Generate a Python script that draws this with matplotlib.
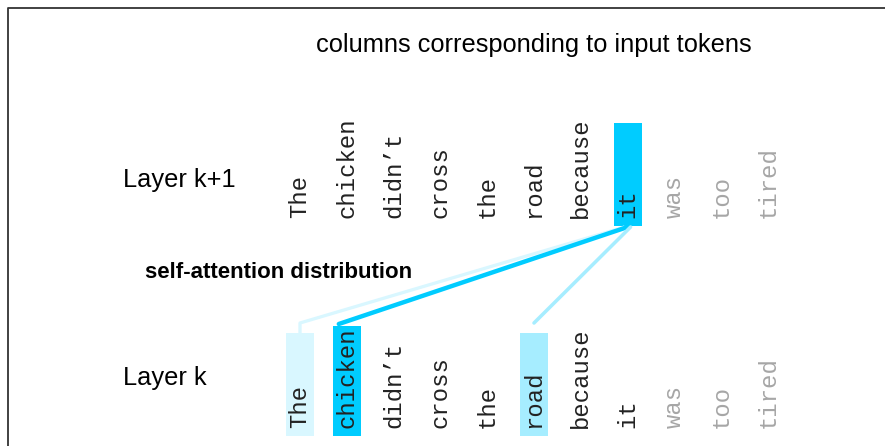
import matplotlib.pyplot as plt
from matplotlib.patches import Rectangle
import numpy as np

tokens = ['The', 'chicken', 'didn\u2019t', 'cross', 'the', 'road',
          'because', 'it', 'was', 'too', 'tired']
# tokens after "it" are not visible to it (greyed)
visible = [1, 1, 1, 1, 1, 1, 1, 1, 0, 0, 0]
query = 'it'
# attention weights from "it" (layer k+1) onto layer k tokens
attn_tokens = ['The', 'chicken', 'road']
attn_weights = [0.15, 1.0, 0.35]

base = np.array([0, 204, 255]) / 255.0


def shade(w):
    return tuple(1 - w * (1 - base))


fig = plt.figure(figsize=(8.85, 4.46), dpi=100)
ax = fig.add_axes([0, 0, 1, 1])
ax.set_xlim(0, 885)
ax.set_ylim(446, 0)
ax.axis('off')

# frame (only left and top edges show)
ax.plot([8, 8, 885], [446, 7.5, 7.5], color='#333333', lw=1.3,
        solid_capstyle='butt')

mono = 'Liberation Mono'
sans = 'Liberation Sans'
fs = 17.2

ax.text(534, 45, 'columns corresponding to input tokens', fontsize=18.3,
        family=sans, ha='center', va='center')
ax.text(123, 180, 'Layer k+1', fontsize=18.3, family=sans, va='center')
ax.text(123, 378, 'Layer k', fontsize=18.3, family=sans, va='center')
ax.text(145, 273, 'self-attention distribution', fontsize=16,
        family=sans, weight='bold', va='center')

x0, dx = 300, 46.8
xs = [x0 + i * dx for i in range(len(tokens))]
top_base, bot_base = 218, 428


def box(x, bottom, tok, color):
    h = max(103, len(tok) * 14 + 12)
    ax.add_patch(Rectangle((x - 14, bottom + 8 - h), 28, h, color=color,
                           lw=0, zorder=1))


# attention lines from the query column
qi = tokens.index(query)
src = (xs[qi], 227)
for tok, w in zip(attn_tokens, attn_weights):
    i = tokens.index(tok)
    col = shade(w)
    lw = 2.2 + 1.0 * w
    if w > 0.5:
        ax.plot([src[0], xs[i] - 8], [src[1], 324], color=col, lw=lw,
                solid_capstyle='round', zorder=2)
    elif xs[i] < 400:
        ax.plot([src[0] - 3, xs[i], xs[i]], [src[1], 323, 334], color=col,
                lw=lw, solid_capstyle='butt', zorder=2)
    else:
        ax.plot([src[0] + 3, xs[i]], [src[1], 323], color=col, lw=lw,
                solid_capstyle='round', zorder=2)
    box(xs[i], bot_base, tok, col)

box(xs[qi], top_base, query, shade(1.0))

for x, tok, v in zip(xs, tokens, visible):
    c = '#222222' if v else '#a6a6a6'
    for yb in (top_base, bot_base):
        ax.text(x, yb, tok, rotation=90, ha='center', va='bottom',
                fontsize=fs, family=mono, color=c, zorder=3)

fig.savefig('out.png', dpi=100)
